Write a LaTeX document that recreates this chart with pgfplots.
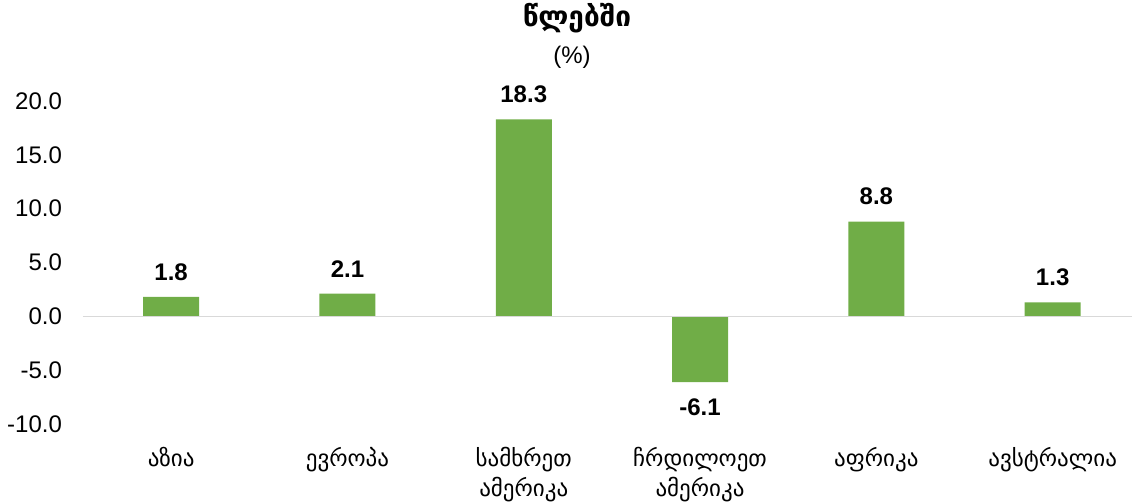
\documentclass[border=0pt]{standalone}
\usepackage{pgfplots}
\pgfplotsset{compat=1.18}
\usepackage{fontspec}
\setmainfont{Liberation Sans}
\newfontfamily\geo[Script=Georgian]{DejaVu Sans}
\definecolor{barg}{HTML}{70AD47}
\definecolor{zl}{HTML}{D9D9D9}
\begin{document}
\begin{tikzpicture}[x=1pt,y=1pt]
\begin{axis}[
  scale only axis, width=524.5pt, height=161.5pt,
  xmin=-0.5, xmax=5.45, ymin=-10, ymax=20,
  axis x line=bottom, axis y line=left,
  axis line style={draw=none},
  ybar, bar width=28pt,
  xtick={0,...,5},
  xticklabels={აზია, ევროპა, {სამხრეთ\\ამერიკა}, {ჩრდილოეთ\\ამერიკა}, აფრიკა, ავსტრალია},
  xticklabel style={font=\geo\fontsize{11.5}{15}\selectfont, align=center, anchor=north, yshift=-8pt},
  ytick={-10,-5,...,20},
  yticklabel style={font=\fontsize{12}{14}\selectfont, xshift=-7pt},
  /pgf/number format/assume math mode=true,
  yticklabel={\pgfmathprintnumber[fixed,fixed zerofill,precision=1]{\tick}},
  major tick length=0pt,
  tick style={draw=none},
  nodes near coords,
  nodes near coords style={font=\bfseries\fontsize{12}{14}\selectfont, inner ysep=8pt, /pgf/number format/.cd, fixed, fixed zerofill, precision=1, assume math mode=true},
  clip=false,
]
\addplot[ybar, draw=none, fill=barg] coordinates {(0,1.8) (1,2.1) (2,18.3) (3,-6.1) (4,8.8) (5,1.3)};
\addplot[sharp plot, zl, line width=0.75pt, forget plot, nodes near coords={}] coordinates {(-0.5,0) (5.45,0)};
\coordinate (O) at (rel axis cs:0,0);
\end{axis}
\node[font=\geo\bfseries\fontsize{14}{16}\selectfont] at ([shift={(247,203)}]O) {წლებში};
\node[font=\fontsize{12}{14}\selectfont] at ([shift={(244.5,183.5)}]O) {(\%)};
\pgfresetboundingbox
\path ([shift={(-41.5,-40)}]O) rectangle ++(566,252);
\end{tikzpicture}
\end{document}
